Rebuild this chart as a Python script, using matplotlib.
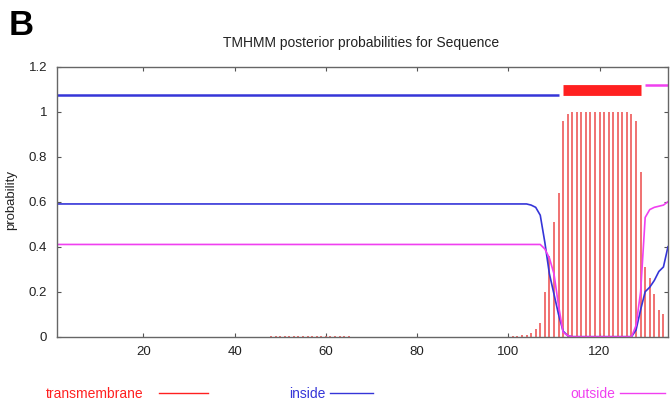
import matplotlib
matplotlib.use('Agg')
import matplotlib.pyplot as plt
from matplotlib.lines import Line2D

plt.rcParams['font.family'] = ['Liberation Sans', 'DejaVu Sans']

# sequence length and predicted topology
seq_len = 135
inside_seg = (1, 111)
tm_seg = (112, 129)
outside_seg = (130, 135)

# posterior probability of transmembrane (drawn as impulses)
tm_pos = [48, 49, 50, 51, 52, 53, 54, 55, 56, 57, 58, 59, 60, 61, 62, 63, 64, 65,
          101, 102, 103, 104, 105, 106, 107, 108, 109, 110, 111, 112, 113,
          114, 115, 116, 117, 118, 119, 120, 121, 122, 123, 124, 125, 126,
          127, 128, 129, 130, 131, 132, 133, 134]
tm_prob = [0.003] * 18 + [
    0.003, 0.004, 0.006, 0.009, 0.015, 0.033, 0.062, 0.197, 0.36, 0.51, 0.64, 0.96, 0.99,
    1.0, 1.0, 1.0, 1.0, 1.0, 1.0, 1.0, 1.0, 1.0, 1.0, 1.0, 1.0, 1.0,
    0.99, 0.96, 0.73, 0.31, 0.26, 0.19, 0.12, 0.10]

# inside probability (flat stretch kept as its end points)
inside_pos = [1, 104, 105, 106, 107, 108, 109, 110, 111, 112, 113, 114,
              127, 128, 129, 130, 131, 132, 133, 134, 135]
inside_prob = [0.59, 0.59, 0.585, 0.575, 0.54, 0.42, 0.28, 0.19, 0.10, 0.025, 0.005, 0.0,
               0.0, 0.03, 0.12, 0.20, 0.22, 0.25, 0.29, 0.31, 0.40]

# outside probability
outside_pos = [1, 107, 108, 109, 110, 111, 112, 113, 114,
               127, 128, 129, 130, 131, 132, 133, 134, 135]
outside_prob = [0.41, 0.41, 0.39, 0.35, 0.28, 0.14, 0.02, 0.005, 0.0,
                0.0, 0.05, 0.20, 0.53, 0.565, 0.575, 0.58, 0.585, 0.60]

red = '#ff2020'
blue = '#3535d8'
magenta = '#f040f0'

fig = plt.figure(figsize=(6.7, 4.05), dpi=100)
ax = fig.add_axes([0.0846, 0.1686, 0.9124, 0.6667])

ax.vlines(tm_pos, 0, tm_prob, color='#ef6666', linewidth=1.3)
ax.plot(inside_pos, inside_prob, color=blue, linewidth=1.2)
ax.plot(outside_pos, outside_prob, color=magenta, linewidth=1.2)

# topology bars along the top
ax.plot(inside_seg, [1.075, 1.075], color=blue, linewidth=1.8, solid_capstyle='butt')
ax.plot(tm_seg, [1.096, 1.096], color=red, linewidth=7.8, solid_capstyle='butt')
ax.plot(outside_seg, [1.117, 1.117], color=magenta, linewidth=1.8, solid_capstyle='butt')

ax.set_xlim(1, seq_len)
ax.set_ylim(0, 1.2)
ax.set_xticks([20, 40, 60, 80, 100, 120])
ax.set_yticks([0, 0.2, 0.4, 0.6, 0.8, 1.0, 1.2])
ax.set_yticklabels(['0', '0.2', '0.4', '0.6', '0.8', '1', '1.2'])
ax.tick_params(direction='in', length=3, width=0.8, top=True, right=True,
               labelsize=9.5, colors='#555555', labelcolor='#222222', pad=7)
for s in ax.spines.values():
    s.set_color('#666666')
    s.set_linewidth(1.0)

fig.text(0.539, 0.895, 'TMHMM posterior probabilities for Sequence',
         ha='center', va='center', fontsize=10, color='#222222')
fig.text(0.016, 0.506, 'probability', rotation=90, ha='center', va='center',
         fontsize=9.5, color='#222222')
fig.text(0.013, 0.978, 'B', ha='left', va='top', fontsize=25, fontweight='bold')

# legend row under the plot
legend_items = [('transmembrane', red, 0.069, 0.238, 0.31),
                ('inside', blue, 0.431, 0.493, 0.556),
                ('outside', magenta, 0.851, 0.925, 0.993)]
for label, col, tx, lx0, lx1 in legend_items:
    fig.text(tx, 0.027, label, ha='left', va='center', fontsize=10, color=col)
    fig.add_artist(Line2D([lx0, lx1], [0.029, 0.029], color=col, linewidth=1.0,
                          transform=fig.transFigure))

fig.savefig('out.png', dpi=100)
